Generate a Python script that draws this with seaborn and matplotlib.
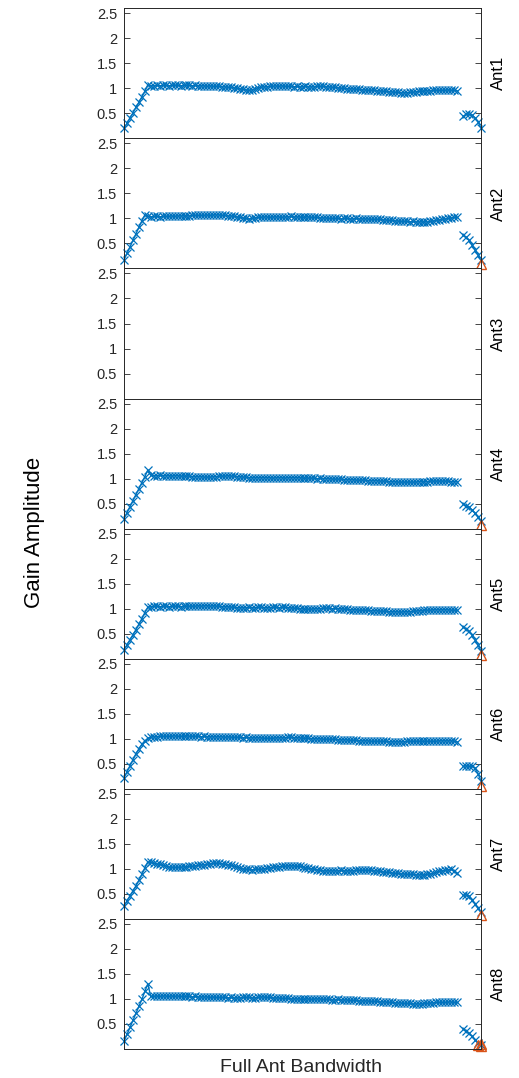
import numpy as np
import pandas as pd
import matplotlib
matplotlib.use("Agg")
import matplotlib.pyplot as plt
import seaborn as sns

# ---------------- data ----------------
antennas = ["Ant1", "Ant2", "Ant3", "Ant4", "Ant5", "Ant6", "Ant7", "Ant8"]
n_channels = 121          # channel index 0..120
main_start = 0            # main band occupies channels 0..112
tail_start = 114          # band-edge segment occupies channels 114..120

ant1_main = [0.20,0.30,0.41,0.51,0.62,0.72,0.83,0.94,1.07,
    1.05,1.05,1.06,1.05,1.06,1.06,1.05,1.06,1.06,1.06,1.05,1.06,1.06,1.06,1.05,1.06,1.05,1.05,1.05,1.04,1.05,1.04,
    1.04,1.04,1.03,1.03,1.02,1.02,1.01,1.00,0.99,0.98,0.97,
    0.96,0.97,0.99,1.01,1.02,1.03,1.03,
    1.04,1.04,1.05,1.04,1.05,1.04,1.04,1.04,1.03,1.04,1.03,1.03,1.04,1.03,1.03,1.03,1.04,1.04,1.04,1.03,1.03,1.02,1.02,1.01,
    1.00,1.00,0.99,0.99,0.99,0.98,0.98,0.97,0.97,0.96,0.96,0.96,0.95,0.95,0.94,0.94,0.93,0.93,0.92,0.92,0.91,
    0.91,0.91,0.92,0.92,0.93,0.94,0.94,0.95,0.95,0.95,0.96,0.96,0.96,0.96,0.96,0.97,0.96,0.96,0.95]
ant1_tail = [0.44,0.48,0.48,0.46,0.41,0.33,0.21]

ant2_main = [0.17,0.30,0.43,0.56,0.69,0.82,0.95,1.07,
    1.04,1.03,1.04,1.04,1.03,1.04,1.04,1.04,1.05,1.04,1.05,1.05,1.05,1.05,
    1.05,1.06,1.06,1.06,1.06,1.06,1.07,1.06,1.07,1.07,1.07,1.06,
    1.06,1.05,1.05,1.04,1.03,1.02,1.01,1.00,0.99,1.00,1.01,
    1.02,1.02,1.03,1.03,1.02,1.03,1.03,1.03,1.02,1.03,1.03,1.04,1.03,1.03,1.03,1.02,1.03,1.03,1.02,1.02,1.02,
    1.01,1.01,1.01,1.00,1.00,1.00,1.00,0.99,1.00,1.00,0.99,0.99,1.00,0.99,0.99,0.99,0.99,0.98,0.98,0.98,0.98,0.97,0.97,0.96,0.96,
    0.95,0.95,0.94,0.94,0.94,0.93,0.94,0.93,0.93,0.93,0.93,0.93,0.94,0.95,0.96,0.97,0.98,0.99,1.00,1.01,1.02,1.02]
ant2_tail = [0.66,0.62,0.56,0.47,0.37,0.27,0.16]

ant3_main = []
ant3_tail = []

ant4_main = [0.20,0.32,0.44,0.56,0.68,0.80,0.92,1.04,1.17,
    1.07,1.06,1.06,1.07,1.06,1.06,1.06,1.05,1.06,1.06,1.05,1.05,1.05,1.05,1.04,1.04,1.04,1.04,1.03,1.03,1.03,1.04,1.04,1.05,
    1.05,1.05,1.06,1.05,1.05,1.04,1.04,1.03,1.03,1.02,1.02,1.02,1.02,
    1.02,1.02,1.02,1.02,1.01,1.02,1.02,1.02,1.01,1.02,1.02,1.02,1.02,1.02,1.01,1.01,1.01,1.01,1.01,1.00,1.01,1.00,1.00,1.00,0.99,
    0.99,0.99,0.99,0.98,0.98,0.98,0.98,0.97,0.97,0.97,0.97,0.96,0.96,0.96,0.96,0.95,0.95,0.95,0.94,0.94,0.94,0.93,0.93,0.93,0.93,
    0.93,0.93,0.93,0.94,0.94,0.94,0.94,0.95,0.95,0.95,0.95,0.95,0.95,0.95,0.94,0.94,0.94]
ant4_tail = [0.49,0.46,0.43,0.37,0.31,0.23,0.15]

ant5_main = [0.18,0.28,0.38,0.48,0.58,0.69,0.80,0.92,1.03,
    1.04,1.05,1.05,1.04,1.05,1.05,1.04,1.05,1.05,1.05,1.04,1.05,1.05,1.05,1.05,1.05,1.06,1.05,1.06,1.06,1.05,1.06,
    1.05,1.05,1.04,1.04,1.04,1.03,1.03,1.02,1.02,1.02,1.02,1.03,1.02,1.02,1.03,1.03,1.02,1.02,1.02,1.03,1.03,1.02,1.03,1.03,1.02,
    1.02,1.01,1.01,1.00,1.00,0.99,0.99,0.99,1.00,1.00,1.00,1.01,1.01,1.01,1.00,1.01,1.00,1.00,0.99,0.99,0.98,0.98,0.98,0.97,0.97,
    0.97,0.97,0.96,0.96,0.96,0.95,0.95,0.95,0.94,0.94,0.94,0.94,0.93,0.94,0.94,0.94,0.95,0.95,0.96,0.96,0.97,0.97,0.97,0.98,0.98,0.98,0.98,0.98,0.98,0.97,0.97,0.97]
ant5_tail = [0.63,0.60,0.55,0.47,0.38,0.27,0.16]

ant6_main = [0.22,0.34,0.46,0.58,0.70,0.80,0.89,0.96,1.01,
    1.03,1.04,1.04,1.05,1.05,1.05,1.05,1.05,1.06,1.05,1.05,1.05,1.06,1.05,1.05,1.05,1.05,1.04,1.05,1.04,1.04,1.04,1.04,1.04,1.04,1.03,1.04,
    1.03,1.03,1.03,1.03,1.02,1.03,1.02,1.02,1.02,1.02,1.02,1.01,1.01,1.01,1.01,1.02,1.02,1.02,1.02,1.03,1.03,1.02,1.02,1.02,1.01,
    1.01,1.01,1.00,1.00,1.00,1.00,0.99,0.99,0.99,0.99,0.99,0.98,0.98,0.98,0.98,0.97,0.97,0.97,0.96,0.96,0.96,0.96,0.95,0.95,0.95,
    0.95,0.95,0.95,0.94,0.94,0.94,0.94,0.94,0.94,0.95,0.95,0.95,0.95,0.95,0.95,0.95,0.95,0.95,0.95,0.95,0.96,0.96,0.96,0.96,0.96,0.95,0.94]
ant6_tail = [0.45,0.46,0.45,0.45,0.42,0.30,0.16]

ant7_main = [0.26,0.36,0.46,0.56,0.66,0.77,0.89,1.02,1.14,
    1.13,1.11,1.10,1.09,1.07,1.06,1.04,1.03,1.03,1.03,1.03,1.04,
    1.04,1.05,1.05,1.06,1.07,1.08,1.08,1.09,1.10,1.11,1.11,1.11,1.10,1.09,1.08,
    1.07,1.05,1.04,1.02,1.00,0.99,0.99,0.98,0.99,0.99,0.99,1.00,1.01,1.02,1.03,
    1.04,1.04,1.05,1.05,1.06,1.06,1.06,1.05,1.05,1.04,1.02,1.01,1.00,0.99,0.98,0.97,0.96,
    0.96,0.96,0.96,0.96,0.96,0.97,0.96,0.96,0.96,0.96,0.97,0.97,0.97,0.97,0.97,0.97,0.96,0.96,0.95,0.94,0.93,0.93,0.92,
    0.91,0.91,0.90,0.90,0.89,0.89,0.89,0.88,0.88,0.88,0.88,0.89,0.90,0.91,0.93,0.95,0.96,0.97,0.98,0.99,0.96,0.91]
ant7_tail = [0.47,0.48,0.46,0.38,0.30,0.21,0.13]

ant8_main = [0.15,0.29,0.43,0.57,0.71,0.85,0.99,1.15,1.30,
    1.05,1.05,1.06,1.05,1.06,1.06,1.05,1.06,1.05,1.06,1.05,1.05,1.05,1.05,1.04,1.05,1.04,1.04,1.04,1.04,1.03,1.04,1.03,1.03,
    1.03,1.03,1.02,1.03,1.02,1.02,1.02,1.03,1.03,1.03,1.02,1.02,1.03,1.04,1.04,1.03,1.03,1.02,1.02,1.02,1.01,1.01,1.01,
    1.00,1.00,1.00,1.00,0.99,1.00,1.00,0.99,1.00,1.00,1.00,0.99,0.99,0.99,0.98,0.98,0.99,0.98,0.98,0.98,0.97,0.97,0.97,0.96,0.96,
    0.96,0.96,0.95,0.95,0.95,0.94,0.94,0.94,0.93,0.93,0.92,0.92,0.92,0.91,0.91,0.91,0.90,0.90,0.90,0.90,0.91,0.91,0.92,0.92,0.93,0.93,0.93,0.93,0.94,0.94,0.93,0.93]
ant8_tail = [0.40,0.36,0.31,0.25,0.18,0.12,0.07]

# flagged channels (orange triangles): channel, gain
flag_channels = {"Ant2": [120], "Ant4": [120], "Ant5": [120], "Ant6": [120],
                 "Ant7": [120], "Ant8": [119, 120, 120]}
flag_gains = {"Ant2": [0.08], "Ant4": [0.07], "Ant5": [0.08], "Ant6": [0.06],
              "Ant7": [0.07], "Ant8": [0.07, 0.05, 0.10]}

mains = [ant1_main, ant2_main, ant3_main, ant4_main, ant5_main, ant6_main, ant7_main, ant8_main]
tails = [ant1_tail, ant2_tail, ant3_tail, ant4_tail, ant5_tail, ant6_tail, ant7_tail, ant8_tail]

yticks = [0.5, 1, 1.5, 2, 2.5]
ytick_labels = ["0.5", "1", "1.5", "2", "2.5"]

# ---------------- build tidy frame ----------------
rows = []
for name, m, t in zip(antennas, mains, tails):
    for i, g in enumerate(m):
        rows.append((name, "main", main_start + i, g))
    for i, g in enumerate(t):
        rows.append((name, "tail", tail_start + i, g))
df = pd.DataFrame(rows, columns=["ant", "seg", "channel", "gain"])

frows = []
for name in flag_channels:
    for c, g in zip(flag_channels[name], flag_gains[name]):
        frows.append((name, c, g))
fdf = pd.DataFrame(frows, columns=["ant", "channel", "gain"])

# ---------------- plot ----------------
sns.set_style("white")
plt.rcParams["font.family"] = ["Liberation Sans", "DejaVu Sans"]

BLUE = "#0072BD"
ORANGE = "#D95319"
TXT = "#262626"

fig, axes = plt.subplots(8, 1, figsize=(5.19, 10.78), dpi=100, sharex=True)
fig.subplots_adjust(left=124/519, right=481/519, top=1-8.3/1078, bottom=1-1049/1078, hspace=0)

for ax, name in zip(axes, antennas):
    sub = df[df.ant == name]
    if len(sub):
        sns.lineplot(data=sub, x="channel", y="gain", units="seg", estimator=None,
                     color=BLUE, marker="x", markersize=5.5, markeredgewidth=0.9,
                     markeredgecolor=BLUE, linewidth=1.0, ax=ax, legend=False,
                     clip_on=False)
    fsub = fdf[fdf.ant == name]
    if len(fsub):
        sns.lineplot(data=fsub, x="channel", y="gain", estimator=None, units=None,
                     color=ORANGE, marker="^", markersize=7, markeredgewidth=1.0,
                     markeredgecolor=ORANGE, markerfacecolor="none", linestyle="",
                     ax=ax, legend=False, clip_on=False)
    ax.set_xlim(0, n_channels - 1)
    ax.set_ylim(0, 2.6)
    ax.set_xticks([])
    ax.set_yticks(yticks)
    ax.set_yticklabels(ytick_labels)
    ax.tick_params(axis="y", direction="in", left=True, right=True, length=4,
                   width=0.6, labelsize=10.5, labelcolor=TXT, color=TXT, pad=5)
    ax.set_xlabel("")
    ax.set_ylabel("")
    for sp in ax.spines.values():
        sp.set_visible(True)
        sp.set_color(TXT)
        sp.set_linewidth(0.7)
    ax.text(1.05, 0.5, name, transform=ax.transAxes, rotation=90,
            ha="center", va="center", fontsize=12, color="black")

fig.text(0.067, 0.506, "Gain Amplitude", rotation=90, ha="center", va="center",
         fontsize=16, color="black")
fig.text(0.579, 0.0093, "Full Ant Bandwidth", ha="center", va="center",
         fontsize=14, color=TXT)

fig.savefig("out.png", dpi=100)
